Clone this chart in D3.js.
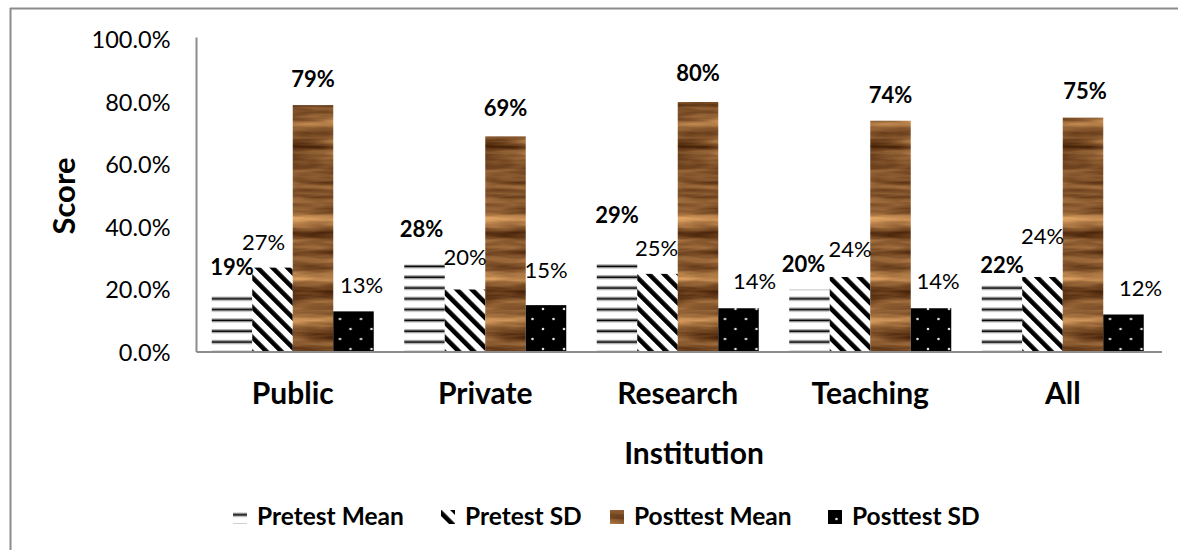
<!DOCTYPE html>
<html>
<head>
<meta charset="utf-8">
<script src="https://cdn.jsdelivr.net/npm/d3@7"></script>
<style>
  html, body { margin: 0; padding: 0; background: #fff; }
  svg { display: block; font-family: Lato, "Open Sans", sans-serif; }
</style>
</head>
<body>
<svg id="chart" width="1178" height="550"></svg>
<script>
// Scores by institution type
const categories = ["Public", "Private", "Research", "Teaching", "All"];
const seriesNames = ["Pretest Mean", "Pretest SD", "Posttest Mean", "Posttest SD"];
const pretestMean = [19, 28, 29, 20, 22];
const pretestSD = [27, 20, 25, 24, 24];
const posttestMean = [79, 69, 80, 74, 75];
const posttestSD = [13, 15, 14, 14, 12];
const yTicks = [0, 20, 40, 60, 80, 100];

// Hand placement of the value labels (offsets from the default spot above each bar)
const labelShiftY = [
  [0, -10, -20, 0, 8],
  [0, -7, 0, -2, -15],
  [0, -2, -3, 0, -1],
  [0, -9, -1, -1, -1]
];
const labelShiftX = [
  [0, -3, 0, -6, 0],
  [-9, 0, -1, 0, 0],
  [0, 0, 0, 0, 2],
  [8, 0, 16, 7, 17]
];

const series = [pretestMean, pretestSD, posttestMean, posttestSD];

const svg = d3.select("#chart");
const defs = svg.append("defs");

// Horizontal line hatch
const pHor = defs.append("pattern").attr("id", "pat-hlines")
  .attr("patternUnits", "userSpaceOnUse").attr("width", 8).attr("height", 10.8)
  .attr("y", 2);
pHor.append("rect").attr("width", 8).attr("height", 10.8).attr("fill", "#fff");
pHor.append("rect").attr("y", 3.4).attr("width", 8).attr("height", 1).attr("fill", "#777");
pHor.append("rect").attr("y", 4.4).attr("width", 8).attr("height", 1.8).attr("fill", "#000");
pHor.append("rect").attr("y", 6.2).attr("width", 8).attr("height", 1).attr("fill", "#999");

// Diagonal stripe hatch, running from upper left to lower right
const pDiag = defs.append("pattern").attr("id", "pat-diag")
  .attr("patternUnits", "userSpaceOnUse").attr("width", 10.6).attr("height", 10.6)
  .attr("patternTransform", "rotate(-45)");
pDiag.append("rect").attr("width", 10.6).attr("height", 10.6).attr("fill", "#fff");
pDiag.append("rect").attr("x", 0).attr("width", 4.6).attr("height", 10.6).attr("fill", "#000");

// Dotted black fill
const pDots = defs.append("pattern").attr("id", "pat-dots")
  .attr("patternUnits", "userSpaceOnUse").attr("width", 21).attr("height", 20)
  .attr("x", 2).attr("y", 4);
pDots.append("rect").attr("width", 21).attr("height", 20).attr("fill", "#000");
pDots.append("circle").attr("cx", 5).attr("cy", 5).attr("r", 1.3).attr("fill", "#ddd");
pDots.append("circle").attr("cx", 15.5).attr("cy", 15).attr("r", 1.3).attr("fill", "#ddd");

// Wood grain texture
const fWood = defs.append("filter").attr("id", "wood")
  .attr("x", 0).attr("y", 0).attr("width", 1).attr("height", 1)
  .attr("color-interpolation-filters", "sRGB");
fWood.append("feTurbulence").attr("type", "fractalNoise")
  .attr("baseFrequency", "0.008 0.07").attr("numOctaves", 4).attr("seed", 11)
  .attr("result", "noise");
fWood.append("feColorMatrix").attr("in", "noise").attr("type", "matrix")
  .attr("values", "1.0 0 0 0 0.03  0.85 0 0 0 -0.08  0.6 0 0 0 -0.12  0 0 0 0 1")
  .attr("result", "tint");
fWood.append("feComposite").attr("in", "tint").attr("in2", "SourceGraphic")
  .attr("operator", "in");

const fills = ["url(#pat-hlines)", "url(#pat-diag)", "#9a6438", "url(#pat-dots)"];
const filters = [null, null, "url(#wood)", null];

// Outer frame
svg.append("line").attr("x1", 10.5).attr("x2", 10.5).attr("y1", 8).attr("y2", 550)
  .attr("stroke", "#8c8c8c").attr("stroke-width", 2);
svg.append("line").attr("x1", 10).attr("x2", 1178).attr("y1", 8.5).attr("y2", 8.5)
  .attr("stroke", "#8c8c8c").attr("stroke-width", 2);

const x0 = d3.scaleBand().domain(categories).range([196.5, 1159]);
const x1 = d3.scaleBand().domain(d3.range(series.length))
  .range([15.25, x0.bandwidth() - 15.25]);
const y = d3.scaleLinear().domain([0, 100]).range([352, 39.5]);

// Bars
const groups = svg.append("g").selectAll("g").data(categories).join("g")
  .attr("transform", d => `translate(${x0(d)},0)`);

groups.each(function (cat, ci) {
  const g = d3.select(this);
  series.forEach((vals, si) => {
    const r = g.append("rect")
      .attr("x", x1(si)).attr("width", x1.bandwidth())
      .attr("y", y(vals[ci])).attr("height", y(0) - y(vals[ci]))
      .attr("fill", fills[si]);
    if (filters[si]) r.attr("filter", filters[si]);
  });
});

// Value labels
groups.each(function (cat, ci) {
  const g = d3.select(this);
  series.forEach((vals, si) => {
    const bold = si === 0 || si === 2;
    g.append("text")
      .attr("x", x1(si) + x1.bandwidth() / 2 + labelShiftX[si][ci])
      .attr("y", y(vals[ci]) - 18 + labelShiftY[si][ci])
      .attr("text-anchor", "middle")
      .attr("font-size", bold ? 22 : 22)
      .attr("font-weight", bold ? 700 : 400)
      .attr("fill", "#000")
      .text(vals[ci] + "%");
  });
});

// Axes
const yAxis = d3.axisLeft(y).tickValues(yTicks).tickSize(0).tickPadding(26)
  .tickFormat(d => d.toFixed(1) + "%");
const gy = svg.append("g").attr("transform", "translate(196.5,0)").call(yAxis);
gy.select(".domain").attr("stroke", "#8c8c8c").attr("stroke-width", 2)
  .attr("d", `M0,${y(100) - 2}V${y(0)}`);
gy.selectAll("text").attr("font-size", 23.5).attr("font-family", "Lato, sans-serif")
  .attr("fill", "#000").attr("dy", "0.35em");

const xAxis = d3.axisBottom(x0).tickSize(0).tickPadding(31);
const gx = svg.append("g").attr("transform", `translate(0,${y(0)})`).call(xAxis);
gx.select(".domain").attr("stroke", "#8c8c8c").attr("stroke-width", 2)
  .attr("d", `M196.5,0H1162`);
gx.selectAll("text").attr("font-size", 30).attr("font-weight", 700)
  .attr("font-family", "Lato, sans-serif").attr("fill", "#000");

// Axis titles
svg.append("text").attr("transform", "translate(75,196) rotate(-90)")
  .attr("text-anchor", "middle").attr("font-size", 31).attr("font-weight", 700)
  .text("Score");
svg.append("text").attr("x", 694).attr("y", 464)
  .attr("text-anchor", "middle").attr("font-size", 30).attr("font-weight", 700)
  .text("Institution");

// Legend
const legendX = [233, 441, 610, 828];
const legend = svg.append("g");
seriesNames.forEach((name, i) => {
  const sw = legend.append("rect").attr("x", legendX[i]).attr("y", 510)
    .attr("width", 14).attr("height", 14).attr("fill", fills[i]);
  if (filters[i]) sw.attr("filter", filters[i]);
  legend.append("text").attr("x", legendX[i] + 24).attr("y", 525)
    .attr("font-size", 24.5).attr("font-weight", 700).text(name);
});
</script>
</body>
</html>
